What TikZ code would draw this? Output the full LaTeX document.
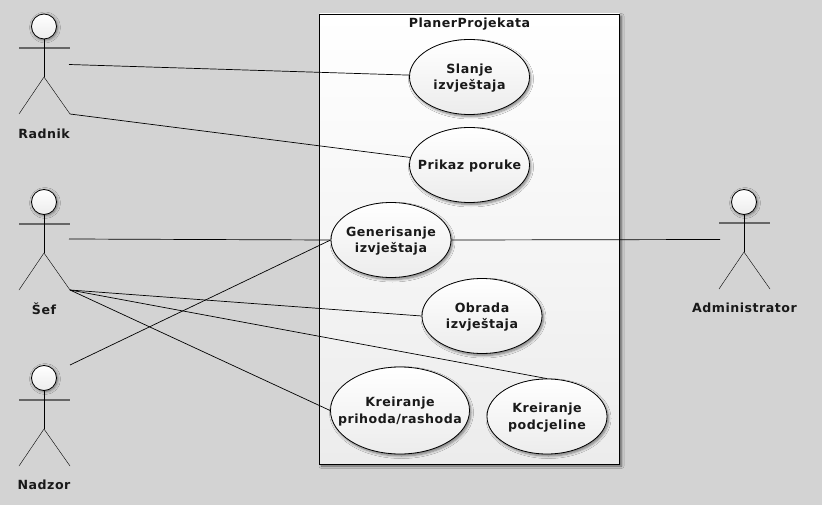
\documentclass[tikz,border=0pt]{standalone}
\usepackage{fontspec}
\setmainfont[LetterSpace=4]{DejaVu Sans}
\usetikzlibrary{shapes.geometric,shadows.blur}
\definecolor{pozadina}{HTML}{D3D3D3}
\definecolor{sjena}{HTML}{ECECEC}
\tikzset{
    slucaj/.style={ellipse, draw, thick, inner sep=0pt,
        minimum width=120pt, minimum height=75pt, top color=white, bottom color=sjena,
        blur shadow={shadow xshift=1.5pt, shadow yshift=-2pt, shadow blur radius=2.5pt, shadow blur steps=6, shadow opacity=50}},
    glava/.style={circle, draw, thick, inner sep=0pt, minimum size=25pt, top color=white, bottom color=sjena,
        blur shadow={shadow xshift=1pt, shadow yshift=-1pt, shadow blur radius=3pt, shadow blur steps=6, shadow opacity=50}},
    ruke/.style={line width=1.2pt, black!60},
    tijelo/.style={line width=.9pt},
    veza/.style={line width=.7pt},
    ime/.style={font=\bfseries\fontsize{12.6}{16.5}\selectfont, align=center, text=black!90},
    tekst/.style={ime, yshift=-1pt}
}
\begin{document}
\begin{tikzpicture}[x=1pt, y=-1pt]
    \fill[pozadina] (0,0) rectangle (822,505);
    \useasboundingbox (0,0) rectangle (822,505);

    % Sistem
    \node[draw, thick, minimum width=300pt, minimum height=450pt, inner sep=0pt, top color=white, bottom color=sjena,
        blur shadow={shadow xshift=2pt, shadow yshift=-2pt, shadow blur radius=2.5pt, shadow blur steps=6, shadow opacity=55}] (sistem) at (469.5,239) {};
    \node[ime] (naslov) at (469.5,24) {PlanerProjekata};

    % Slucajevi
    \node[slucaj] (slanje) at (469.5,77) {};
    \node[tekst] (slanjeT) at (slanje) {Slanje\\izvještaja};
    \node[slucaj] (prikaz) at (469.5,165) {};
    \node[tekst] (prikazT) at (prikaz) {Prikaz poruke};
    \node[slucaj] (generisanje) at (391,240) {};
    \node[tekst] (generisanjeT) at (generisanje) {Generisanje\\izvještaja};
    \node[slucaj] (obrada) at (482,316) {};
    \node[tekst] (obradaT) at (obrada) {Obrada\\izvještaja};
    \node[slucaj, minimum width=139pt, minimum height=87pt] (prihod) at (400,410.5) {};
    \node[tekst] (prihodT) at (prihod) {Kreiranje\\prihoda/rashoda};
    \node[slucaj] (podcjelina) at (547,416.5) {};
    \node[tekst] (podcjelinaT) at (podcjelina) {Kreiranje\\podcjeline};

    % Radnik
    \node[glava] (glavaR) at (44,26.5) {};
    \draw[ruke] (19,48) -- (70,48);
    \draw[tijelo] (glavaR.south) -- (44,77) coordinate (kukR);
    \coordinate (nogaR) at (70,114);
    \coordinate (rukaR) at (69,64.5);
    \draw (19,114) -- (kukR) -- (nogaR);
    \node[ime] (radnik) at (44,134) {Radnik};

    % Sef
    \node[glava] (glavaS) at (44,202) {};
    \draw[ruke] (19,224) -- (70,224);
    \draw[tijelo] (glavaS.south) -- (44,253) coordinate (kukS);
    \coordinate (nogaS) at (70,290);
    \coordinate (rukaS) at (69,239);
    \draw (19,290) -- (kukS) -- (nogaS);
    \node[ime] (sef) at (44,309) {Šef};

    % Nadzor
    \node[glava] (glavaN) at (44,378) {};
    \draw[ruke] (19,400) -- (70,400);
    \draw[tijelo] (glavaN.south) -- (44,429) coordinate (kukN);
    \coordinate (rukaN) at (70,365);
    \draw (19,466) -- (kukN) -- (70,466);
    \node[ime] (nadzor) at (44,485) {Nadzor};

    % Administrator
    \node[glava] (glavaA) at (744,202) {};
    \draw[ruke] (719,223) -- (770,223);
    \draw[tijelo] (glavaA.south) -- (744,252) coordinate (kukA);
    \coordinate (rukaA) at (720,239.5);
    \draw (719,289) -- (kukA) -- (770,289);
    \node[ime] (administrator) at (744.5,308) {Administrator};

    % Veze
    \draw[veza] (rukaR) -- (slanje);
    \draw[veza] (nogaR) -- (prikaz);
    \draw[veza] (rukaS) -- (generisanje.west);
    \draw[veza] (nogaS) -- (obrada.west);
    \draw[veza] (nogaS) -- (podcjelina.north);
    \draw[veza] (nogaS) -- (prihod.west);
    \draw[veza] (rukaN) -- (generisanje.west);
    \draw[veza] (generisanje.east) -- (rukaA);
\end{tikzpicture}
\end{document}
